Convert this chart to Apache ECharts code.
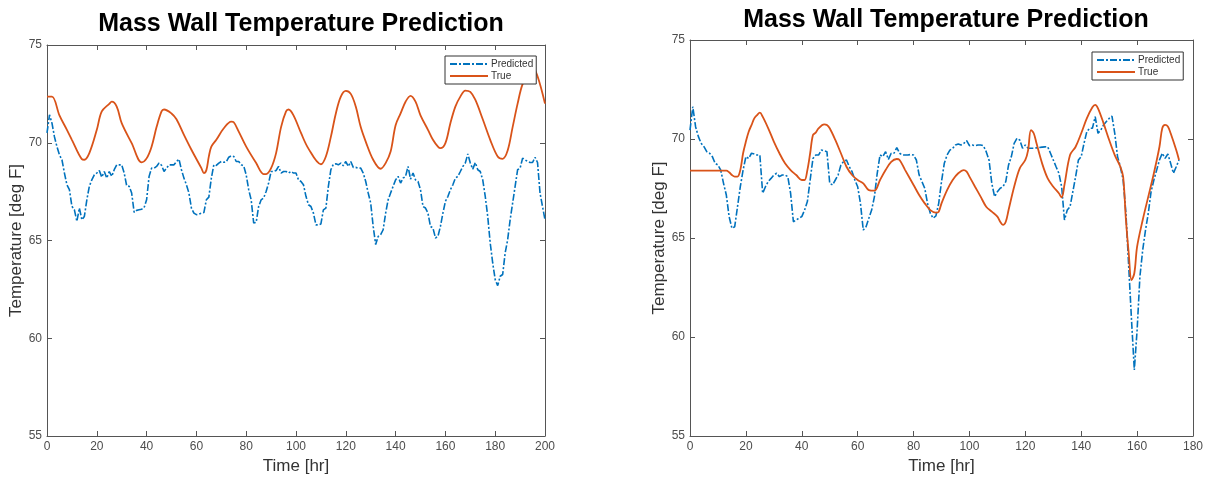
<!DOCTYPE html>
<html>
<head>
<meta charset="utf-8">
<script src="https://cdn.jsdelivr.net/npm/echarts@6/dist/echarts.min.js"></script>
<style>
  html, body { margin: 0; padding: 0; background: #fff; }
  #chart { width: 1214px; height: 480px; }
</style>
</head>
<body>
<div id="chart"></div>
<script>
// ---- Left panel: 200 hour run ----
const leftPredHours = [];
for (let h = 0; h <= 200; h++) leftPredHours.push(h);
const leftPredicted = [
  70.5, 71.43, 71.0, 70.3, 69.8, 69.38, 69.13, 68.45, 67.85, 67.6,
  66.75, 66.57, 65.98, 66.66, 66.06, 66.23, 67.08, 67.77, 68.1, 68.36,
  68.45, 68.58, 68.24, 68.53, 68.19, 68.53, 68.28, 68.62, 68.87, 68.87,
  68.87, 68.45, 67.8, 67.77, 67.43, 66.44, 66.54, 66.57, 66.6, 66.68,
  67.08, 68.28, 68.7, 68.7, 68.79, 68.96, 68.85, 68.53, 68.7, 68.87,
  68.87, 68.87, 69.04, 69.16, 68.62, 68.19, 67.85, 67.43, 66.66, 66.4,
  66.32, 66.35, 66.4, 66.43, 67.08, 67.22, 68.19, 68.87, 68.84, 68.96,
  69.04, 69.0, 69.02, 69.26, 69.33, 69.3, 69.04, 69.04, 68.87, 68.82,
  68.36, 67.6, 67.08, 65.9, 65.93, 66.74, 67.08, 67.17, 67.51, 67.94,
  68.53, 68.53, 68.58, 68.79, 68.45, 68.53, 68.53, 68.45, 68.53, 68.45,
  68.45, 68.1, 68.02, 67.85, 67.26, 66.83, 66.74, 66.4, 65.8, 65.8,
  65.85, 66.57, 66.66, 67.77, 68.62, 68.9, 68.92, 68.87, 68.96, 68.82,
  69.04, 68.79, 69.04, 68.74, 68.74, 68.7, 68.7, 68.45, 68.02, 67.43,
  66.91, 65.72, 64.79, 65.21, 65.3, 65.55, 66.4, 67.08, 67.43, 67.77,
  68.1, 68.28, 67.94, 68.19, 68.28, 68.79, 68.14, 68.45, 68.1, 68.02,
  67.6, 66.74, 66.66, 66.4, 65.72, 65.64, 65.13, 65.21, 65.72, 66.4,
  67.0, 67.25, 67.6, 67.85, 68.19, 68.28, 68.53, 68.79, 68.96, 69.43,
  68.96, 68.65, 68.99, 68.62, 68.53, 68.1, 67.26, 66.23, 64.87, 63.85,
  63.0, 62.69, 63.17, 63.26, 64.36, 65.04, 66.06, 66.91, 67.77, 68.62,
  68.7, 69.21, 69.13, 69.04, 68.99, 68.99, 69.26, 68.99, 67.43, 66.74,
  66.06
];
const leftTrueHours = [
  0, 2, 5, 8, 10, 14, 15, 17, 20, 22, 25, 26, 28, 30, 34, 38, 40, 42, 44, 46,
  47, 50, 52, 55, 58, 62, 63, 64, 65, 66, 68, 71, 74, 75, 77, 80, 84, 87, 88, 90,
  92, 94, 96, 97, 99, 102, 105, 110, 112, 114, 116, 118, 120, 122, 124, 126, 128, 131, 134, 136,
  138, 140, 142, 144, 146, 148, 150, 153, 155, 157, 158, 160, 162, 164, 166, 168, 170, 172, 175, 178,
  181, 183, 185, 187, 189, 191, 194, 195, 197, 200
];
const leftTrue = [
  72.36, 72.36, 71.4, 70.66, 70.15, 69.16, 69.13, 69.47, 70.66, 71.6, 71.99, 72.1, 71.85, 71.0, 69.98, 69.0, 69.2, 69.8, 70.8, 71.6,
  71.7, 71.5, 71.2, 70.4, 69.64, 68.7, 68.45, 68.6, 69.3, 69.8, 70.15, 70.74, 71.08, 71.05, 70.57, 69.8, 68.96, 68.4, 68.4, 68.7,
  69.47, 70.8, 71.6, 71.7, 71.4, 70.5, 69.7, 68.9, 69.3, 70.3, 71.5, 72.36, 72.65, 72.5, 71.85, 70.8, 70.06, 69.13, 68.67, 68.96,
  69.55, 70.9, 71.5, 72.1, 72.4, 72.1, 71.4, 70.66, 70.15, 69.8, 69.72, 69.98, 71.0, 71.85, 72.36, 72.67, 72.6, 72.2, 71.2, 70.15,
  69.3, 69.18, 69.6, 70.8, 72.0, 73.0, 73.7, 73.85, 73.4, 72.0
];

// ---- Right panel: 175 hour run ----
const rightPredHours = [];
for (let h = 0; h <= 175; h++) rightPredHours.push(h);
const rightPredicted = [
  70.45, 71.63, 70.62, 70.12, 69.78, 69.61, 69.36, 69.28, 69.11, 68.77,
  68.69, 68.43, 67.76, 67.17, 66.08, 65.49, 65.57, 66.58, 67.59, 68.43,
  69.11, 69.02, 69.28, 69.24, 69.19, 69.19, 67.26, 67.59, 67.85, 68.01,
  68.18, 68.27, 68.1, 68.18, 68.18, 68.1, 67.26, 65.82, 65.91, 66.0,
  66.08, 66.41, 66.84, 67.93, 69.02, 69.19, 69.19, 69.44, 69.4, 69.36,
  67.76, 67.68, 67.93, 68.18, 68.69, 68.86, 68.94, 68.6, 68.35, 67.93,
  67.59, 66.75, 65.4, 65.57, 66.0, 66.41, 67.09, 68.27, 69.19, 69.11,
  69.36, 68.97, 69.28, 69.28, 69.56, 69.28, 69.19, 69.19, 69.19, 69.22,
  69.19, 68.94, 68.18, 67.85, 67.51, 66.75, 66.25, 66.0, 66.12, 66.75,
  67.85, 68.77, 69.19, 69.44, 69.53, 69.7, 69.75, 69.7, 69.78, 69.92,
  69.66, 69.7, 69.66, 69.7, 69.7, 69.66, 69.36, 68.94, 67.76, 67.09,
  67.34, 67.51, 67.59, 67.85, 68.69, 69.11, 69.78, 70.03, 69.95, 69.53,
  69.7, 69.53, 69.53, 69.53, 69.55, 69.57, 69.59, 69.6, 69.61, 69.28,
  68.94, 68.6, 68.27, 67.59, 65.91, 66.41, 66.58, 67.34, 68.1, 68.94,
  69.11, 69.78, 70.37, 70.54, 70.54, 71.13, 70.29, 70.45, 70.71, 70.88,
  71.04, 71.16, 70.29, 69.11, 68.6, 67.93, 66.25, 63.55, 60.86, 58.33,
  60.35, 63.05, 64.39, 65.4, 66.25, 67.34, 67.93, 68.43, 68.94, 69.28,
  69.02, 69.24, 68.77, 68.27, 68.6, 68.94
];
const rightTrueHours = [
  0, 13, 14, 15, 16, 17, 18, 19, 20, 21, 22, 23, 24, 25, 26, 28, 30, 32, 34, 36,
  38, 40, 41, 42, 43, 44, 45, 46, 48, 49, 50, 52, 54, 56, 58, 60, 62, 64, 66, 68,
  70, 72, 74, 75, 77, 80, 82, 84, 86, 88, 89, 90, 92, 94, 96, 98, 99, 100, 102, 104,
  106, 108, 110, 111, 112, 113, 114, 116, 118, 120, 121, 122, 123, 124, 126, 128, 130, 132, 133, 134,
  136, 138, 140, 142, 144, 145, 146, 148, 150, 152, 154, 155, 156, 157, 158, 159, 160, 162, 164, 166,
  168, 169, 170, 171, 172, 174, 175
];
const rightTrue = [
  68.4, 68.4, 68.32, 68.18, 68.1, 68.1, 68.43, 69.28, 69.87, 70.37, 70.7, 71.04, 71.21, 71.33, 71.13, 70.54, 69.87, 69.28, 68.77, 68.43,
  68.18, 67.93, 67.93, 68.43, 69.28, 70.2, 70.32, 70.54, 70.74, 70.71, 70.54, 69.95, 69.28, 68.6, 68.18, 67.93, 67.76, 67.42, 67.39, 67.93,
  68.43, 68.85, 68.99, 68.94, 68.43, 67.68, 67.17, 66.75, 66.41, 66.28, 66.33, 66.75, 67.42, 67.93, 68.27, 68.43, 68.35, 68.1, 67.59, 67.09,
  66.58, 66.33, 66.08, 65.82, 65.66, 65.82, 66.41, 67.59, 68.52, 68.94, 69.44, 70.45, 70.29, 69.78, 68.77, 68.01, 67.59, 67.26, 67.05, 67.68,
  69.19, 69.61, 70.29, 71.04, 71.6, 71.72, 71.55, 70.79, 69.95, 69.19, 68.6, 68.1, 65.91, 64.23, 62.88, 63.22, 64.56, 65.91, 67.09, 68.27,
  69.61, 70.54, 70.71, 70.63, 70.29, 69.44, 68.94
];

const yTicks = { min: 55, max: 75, interval: 5 };
const leftRange = { min: 0, max: 200, interval: 20 };
const rightRange = { min: 0, max: 180, interval: 20 };

const pairs = (xs, ys) => xs.map((x, i) => [x, ys[i]]);

const BLUE = '#0072BD';
const ORANGE = '#D95319';
const AXIS = '#555555';
const LABEL = '#4d4d4d';
const FONT = 'Liberation Sans, Arial, sans-serif';

function mainX(gridIndex, range) {
  return {
    type: 'value', gridIndex, min: range.min, max: range.max, interval: range.interval,
    name: 'Time [hr]', nameLocation: 'middle', nameGap: 22,
    nameTextStyle: { fontSize: 17, color: '#333', fontFamily: FONT },
    axisLine: { show: true, onZero: false, lineStyle: { color: AXIS, width: 1 } },
    axisTick: { show: true, inside: true, length: 5, lineStyle: { color: AXIS } },
    axisLabel: { fontSize: 12, color: LABEL, fontFamily: FONT, margin: 5 },
    splitLine: { show: false }
  };
}
function boxX(gridIndex, range) {
  return {
    type: 'value', gridIndex, position: 'top', min: range.min, max: range.max, interval: range.interval,
    axisLine: { show: true, onZero: false, lineStyle: { color: AXIS, width: 1 } },
    axisTick: { show: true, inside: true, length: 5, lineStyle: { color: AXIS } },
    axisLabel: { show: false }, splitLine: { show: false }
  };
}
function mainY(gridIndex) {
  return {
    type: 'value', gridIndex, min: yTicks.min, max: yTicks.max, interval: yTicks.interval,
    name: 'Temperature [deg F]', nameLocation: 'middle', nameGap: 21, nameRotate: 90,
    nameTextStyle: { fontSize: 17, color: '#333', fontFamily: FONT },
    axisLine: { show: true, onZero: false, lineStyle: { color: AXIS, width: 1 } },
    axisTick: { show: true, inside: true, length: 5, lineStyle: { color: AXIS } },
    axisLabel: { fontSize: 12, color: LABEL, fontFamily: FONT, margin: 5 },
    splitLine: { show: false }
  };
}
function boxY(gridIndex) {
  return {
    type: 'value', gridIndex, position: 'right', min: yTicks.min, max: yTicks.max, interval: yTicks.interval,
    axisLine: { show: true, onZero: false, lineStyle: { color: AXIS, width: 1 } },
    axisTick: { show: true, inside: true, length: 5, lineStyle: { color: AXIS } },
    axisLabel: { show: false }, splitLine: { show: false }
  };
}
function legend(left, top) {
  return {
    orient: 'vertical', left, top,
    backgroundColor: '#fff', borderColor: '#333', borderWidth: 1,
    padding: [3, 3, 3, 4], itemGap: 2, itemWidth: 38, itemHeight: 10,
    itemStyle: { opacity: 0 },
    textStyle: { fontSize: 10, color: '#333', fontFamily: FONT, padding: [0, 0, 0, -2] },
    data: ['Predicted', 'True']
  };
}
function predSeries(ax, data) {
  return {
    name: 'Predicted', type: 'line', xAxisIndex: ax, yAxisIndex: ax, data,
    symbol: 'none', smooth: false, animation: false,
    lineStyle: { color: BLUE, width: 1.6, type: [7, 2, 2, 2] }, itemStyle: { color: BLUE }
  };
}
function trueSeries(ax, data) {
  return {
    name: 'True', type: 'line', xAxisIndex: ax, yAxisIndex: ax, data,
    symbol: 'none', smooth: 0.35, animation: false,
    lineStyle: { color: ORANGE, width: 1.8 }, itemStyle: { color: ORANGE }
  };
}

const chart = echarts.init(document.getElementById('chart'), null, { renderer: 'canvas' });
chart.setOption({
  backgroundColor: '#fff',
  animation: false,
  title: [
    { text: 'Mass Wall Temperature Prediction', left: 296, top: 7, textAlign: 'center',
      textStyle: { fontSize: 25, fontWeight: 'bold', color: '#000', fontFamily: FONT } },
    { text: 'Mass Wall Temperature Prediction', left: 941, top: 3, textAlign: 'center',
      textStyle: { fontSize: 25, fontWeight: 'bold', color: '#000', fontFamily: FONT } }
  ],
  legend: [legend(445, 56), legend(1092, 52)],
  grid: [
    { left: 47, right: 669, top: 45, bottom: 43 },
    { left: 690, right: 21, top: 40, bottom: 44 }
  ],
  xAxis: [mainX(0, leftRange), mainX(1, rightRange), boxX(0, leftRange), boxX(1, rightRange)],
  yAxis: [mainY(0), mainY(1), boxY(0), boxY(1)],
  series: [
    predSeries(0, pairs(leftPredHours, leftPredicted)),
    trueSeries(0, pairs(leftTrueHours, leftTrue)),
    predSeries(1, pairs(rightPredHours, rightPredicted)),
    trueSeries(1, pairs(rightTrueHours, rightTrue))
  ]
});
</script>
</body>
</html>
